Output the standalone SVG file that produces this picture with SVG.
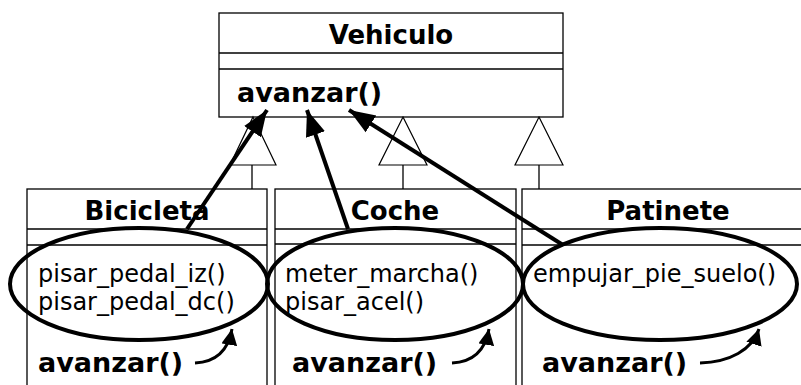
<svg xmlns="http://www.w3.org/2000/svg" width="801" height="385" viewBox="0 0 801 385">
<style>
.box{fill:#fff;stroke:#000;stroke-width:1.3}
.ln{stroke:#000;stroke-width:1.3;fill:none}
.tri{fill:#fff;stroke:#000;stroke-width:1.2}
.b{font-family:"DejaVu Sans",Verdana,sans-serif;font-weight:bold;font-size:26px;fill:#000}
.m{font-size:27px}
.r{font-family:"DejaVu Sans",Verdana,sans-serif;font-size:24px;fill:#000}
.ell{fill:none;stroke:#000;stroke-width:4}
.arr{fill:none;stroke:#000;stroke-width:4}
.carr{fill:none;stroke:#000;stroke-width:3}
</style>
<defs>
<marker id="ah" markerUnits="userSpaceOnUse" markerWidth="26" markerHeight="22" viewBox="0 0 26 22" refX="26" refY="11" orient="auto">
<path d="M0,1 L26,11 L0,21 Z" fill="#000"/>
</marker>
<marker id="ahs" markerUnits="userSpaceOnUse" markerWidth="16" markerHeight="16" viewBox="0 0 16 16" refX="16" refY="8" orient="auto">
<path d="M0,0 L16,8 L0,16 Z" fill="#000"/>
</marker>
</defs>
<g id="Vehiculo">
<rect class="box" x="219" y="13" width="344" height="104"/>
<line class="ln" x1="219" y1="53" x2="563" y2="53"/>
<line class="ln" x1="219" y1="69" x2="563" y2="69"/>
<text class="b" x="391" y="44" text-anchor="middle">Vehiculo</text>
<text class="b m" x="237" y="102">avanzar()</text>
</g>
<g id="Bicicleta">
<rect class="box" x="27" y="189" width="240" height="210"/>
<line class="ln" x1="27" y1="229" x2="267" y2="229"/>
<line class="ln" x1="27" y1="245" x2="267" y2="245"/>
<text class="b" x="147" y="220" text-anchor="middle">Bicicleta</text>
<text class="r" x="38" y="282">pisar_pedal_iz()</text>
<text class="r" x="38" y="310">pisar_pedal_dc()</text>
<text class="b m" x="38" y="372">avanzar()</text>
</g>
<g id="Coche">
<rect class="box" x="275" y="189" width="241" height="210"/>
<line class="ln" x1="275" y1="229" x2="516" y2="229"/>
<line class="ln" x1="275" y1="244" x2="516" y2="244"/>
<text class="b" x="395" y="220" text-anchor="middle">Coche</text>
<text class="r" x="285" y="282">meter_marcha()</text>
<text class="r" x="285" y="310">pisar_acel()</text>
<text class="b m" x="292" y="372">avanzar()</text>
</g>
<g id="Patinete">
<rect class="box" x="522" y="189" width="300" height="210"/>
<line class="ln" x1="522" y1="229" x2="801" y2="229"/>
<line class="ln" x1="522" y1="245" x2="801" y2="245"/>
<text class="b" x="668" y="220" text-anchor="middle">Patinete</text>
<text class="r" x="533" y="282">empujar_pie_suelo()</text>
<text class="b m" x="542" y="372">avanzar()</text>
</g>
<g id="connectors">
<line class="ln" x1="252" y1="165" x2="252" y2="189"/>
<polygon class="tri" points="253,117 276,165 230,165"/>
<line class="ln" x1="403" y1="165" x2="403" y2="189"/>
<polygon class="tri" points="403,117 427,165 379,165"/>
<line class="ln" x1="539" y1="165" x2="539" y2="189"/>
<polygon class="tri" points="539,117 563,165 515,165"/>
<ellipse class="ell" cx="139" cy="284" rx="129" ry="56"/>
<ellipse class="ell" cx="395" cy="284" rx="128" ry="56"/>
<ellipse class="ell" cx="660" cy="284" rx="137" ry="56"/>
<line class="arr" x1="187" y1="229" x2="267" y2="110" marker-end="url(#ah)"/>
<line class="arr" x1="348" y1="229" x2="307" y2="110" marker-end="url(#ah)"/>
<line class="arr" x1="563" y1="245" x2="349" y2="110" marker-end="url(#ah)"/>
<path class="carr" d="M195,363 C215,362 228,352 232,329" marker-end="url(#ahs)"/>
<path class="carr" d="M452,363 C472,362 485,352 489,329" marker-end="url(#ahs)"/>
<path class="carr" d="M700,363 C730,362 752,350 759,329" marker-end="url(#ahs)"/>
</g>
</svg>
